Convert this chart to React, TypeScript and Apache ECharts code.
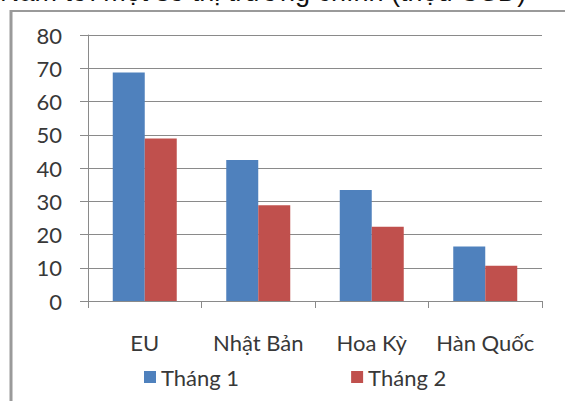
import React, { useEffect, useRef } from "react";
import * as echarts from "echarts";

const categories = ["EU", "Nhật Bản", "Hoa Kỳ", "Hàn Quốc"];
const thang1 = [68.7, 42.4, 33.4, 16.4];
const thang2 = [48.9, 28.8, 22.3, 10.6];
const seriesNames = ["Tháng 1", "Tháng 2"];
const titleText = "Năm tới một số thị trường chính (triệu USD)";

export default function App() {
  const ref = useRef<HTMLDivElement>(null);
  useEffect(() => {
    document.body.style.margin = "0";
    const chart = echarts.init(ref.current!, null, { renderer: "svg" });
    const font = "Lato, 'Open Sans', sans-serif";
    chart.setOption({
      animation: false,
      backgroundColor: "#ffffff",
      grid: { left: 88, right: 23, top: 35, bottom: 100 },
      xAxis: {
        type: "category",
        data: categories,
        boundaryGap: true,
        axisLine: { show: true, lineStyle: { color: "#8a8a8a", width: 1 } },
        axisTick: { show: true, length: 7, alignWithLabel: false, lineStyle: { color: "#8a8a8a" } },
        axisLabel: { color: "#383838", fontSize: 22, fontFamily: font, margin: 30, interval: 0, hideOverlap: false },
      },
      yAxis: {
        type: "value",
        min: 0,
        max: 80,
        interval: 10,
        axisLine: { show: true, lineStyle: { color: "#8a8a8a", width: 1 } },
        axisTick: { show: true, length: 8, lineStyle: { color: "#8a8a8a" } },
        axisLabel: { color: "#383838", fontSize: 22, fontFamily: font, margin: 26 },
        splitLine: { show: true, lineStyle: { color: "#8a8a8a", width: 1 } },
      },
      legend: {
        left: 139,
        top: 361,
        itemWidth: 12,
        itemHeight: 12,
        itemGap: 112,
        icon: "rect",
        textStyle: { color: "#383838", fontSize: 22, fontFamily: font },
        data: seriesNames,
      },
      series: [
        { name: seriesNames[0], type: "bar", data: thang1, barWidth: 32, barGap: "0%", itemStyle: { color: "#4F81BD" } },
        { name: seriesNames[1], type: "bar", data: thang2, barWidth: 32, barGap: "0%", itemStyle: { color: "#C0504D" } },
      ],
      graphic: [
        {
          type: "text",
          x: 0,
          y: -22,
          style: { text: titleText, fontSize: 27, fontFamily: "'Liberation Sans', Arial, sans-serif", fill: "#111111" },
        },
        { type: "line", shape: { x1: 11, y1: 11, x2: 565, y2: 11 }, style: { stroke: "#9a9a9a", lineWidth: 2 } },
        { type: "line", shape: { x1: 11, y1: 10, x2: 11, y2: 401 }, style: { stroke: "#9a9a9a", lineWidth: 3 } },
      ],
    });
    return () => chart.dispose();
  }, []);
  return <div ref={ref} style={{ width: 565, height: 401 }} />;
}
